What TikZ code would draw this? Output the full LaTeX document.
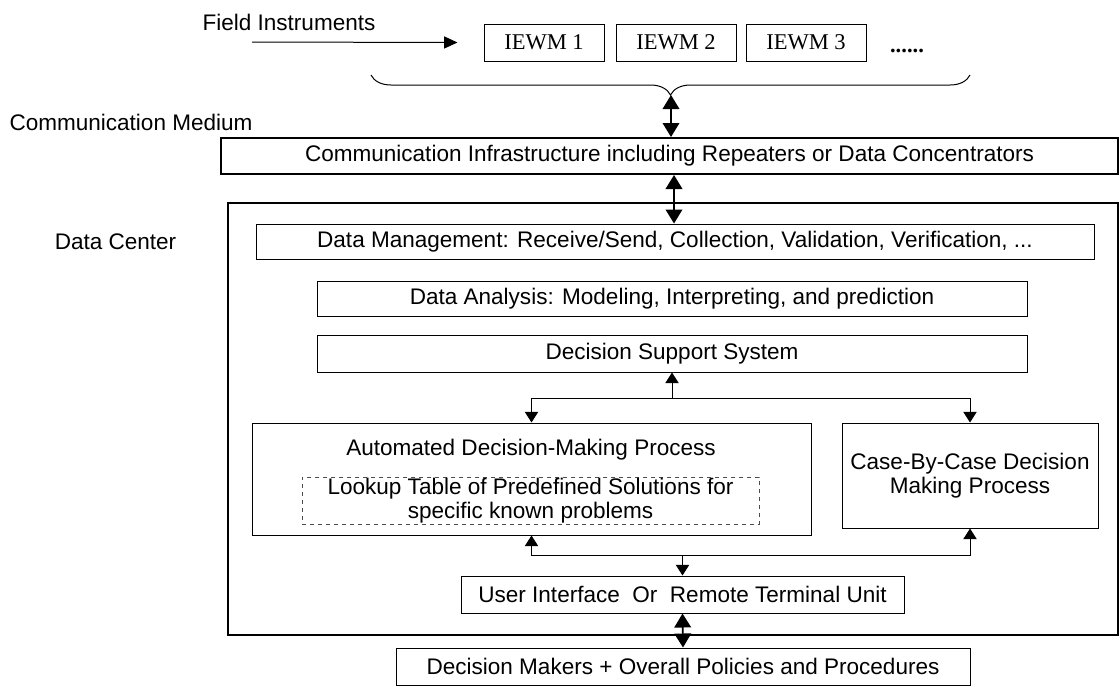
\documentclass[tikz,border=0pt]{standalone}
\usepackage{fontspec}
\setmainfont{Liberation Sans}
\newfontfamily\serifpart{Liberation Serif}
\usetikzlibrary{arrows.meta,decorations.pathreplacing}

\begin{document}
\begin{tikzpicture}[x=0.75pt,y=-0.75pt,
  every node/.style={font=\fontsize{16.9}{18}\selectfont,inner sep=0pt,align=center},
  box/.style={draw,line width=0.75pt},
  bigbox/.style={draw,line width=1.5pt},
  link/.style={line width=0.75pt,-{Triangle[length=8pt,width=10pt]}},
  duplex/.style={line width=1.2pt,{Triangle[length=10.5pt,width=12.5pt]}-{Triangle[length=10.5pt,width=12.5pt]}}]
\useasboundingbox (0,0) rectangle (1120,686);

% field level
\node (fi) at (289,22) {Field Instruments};
\coordinate (fi start) at (252,42);
\foreach \n/\x in {1/544,2/676,3/806}
  \node[box,minimum width=90pt,minimum height=27.75pt,font=\serifpart\fontsize{16.9}{18}\selectfont] (iewm\n) at (\x,42.5) {IEWM \n};
\node[anchor=base,font=\serifpart\bfseries\fontsize{16.9}{18}\selectfont] (more) at (907,52) {......};
\draw[line width=0.75pt,-{Triangle[length=10pt,width=9pt]}] (fi start) -- ([xshift=-19.5pt]iewm1.west);
\draw[line width=0.75pt,decorate,decoration={brace,mirror,amplitude=15pt}] (371,75) -- (970,75);
\coordinate (brace tip) at (671,95);

% medium
\node (medium) at (131,122) {Communication Medium};
\node[bigbox,minimum width=672.75pt,minimum height=27pt] (comm) at (669.5,156) {Communication Infrastructure including Repeaters or Data Concentrators};
\draw[duplex] (brace tip) -- (brace tip |- comm.north);

% data center
\node[bigbox,minimum width=667.5pt,minimum height=324pt] (dc) at (673,419) {};
\node (dclabel) at (115.5,242) {Data Center};
\node[box,minimum width=628.5pt,minimum height=26.25pt] (dm) at (675,241.5) {Data Management: Receive/Send, Collection, Validation, Verification, ...};
\node[box,minimum width=532.5pt,minimum height=26.25pt] (da) at (672,298.5) {Data Analysis: Modeling, Interpreting, and prediction};
\node[box,minimum width=532.5pt,minimum height=27.75pt] (dss) at (672,353.5) {Decision Support System};
\draw[duplex] (comm.south -| 674,0) -- (dm.north -| 674,0);

\node[box,minimum width=419.25pt,minimum height=84pt] (adm) at (531.5,479) {};
\node (admtext) at (531,450) {Automated Decision-Making Process};
\node[draw=black!70,dashed,line width=0.6pt,minimum width=342.75pt,minimum height=35.25pt] (lookup) at (530.5,500.5) {Lookup Table of Predefined Solutions for\\specific known problems};
\node[box,minimum width=192pt,minimum height=78.75pt] (cbc) at (970,475.5) {Case-By-Case Decision\\Making Process};

\coordinate (dss hub) at (672,398);
\draw[link] (dss hub) -- (dss.south);
\draw[link] (dss hub) -| (adm.north);
\draw[link] (dss hub) -| (cbc.north);

\node[box,minimum width=332.25pt,minimum height=27.75pt] (ui) at (682.5,594.5) {User Interface~ Or~ Remote Terminal Unit};
\coordinate (ui hub) at (682.5,555);
\draw[link] (ui hub) -- (ui.north);
\draw[link] (ui hub) -| (adm.south);
\draw[link] (ui hub) -| (cbc.south);

% outside
\node[box,minimum width=430.5pt,minimum height=27.75pt] (makers) at (683,666.5) {Decision Makers + Overall Policies and Procedures};
\draw[duplex] (ui.south) -- (makers.north);
\end{tikzpicture}
\end{document}
